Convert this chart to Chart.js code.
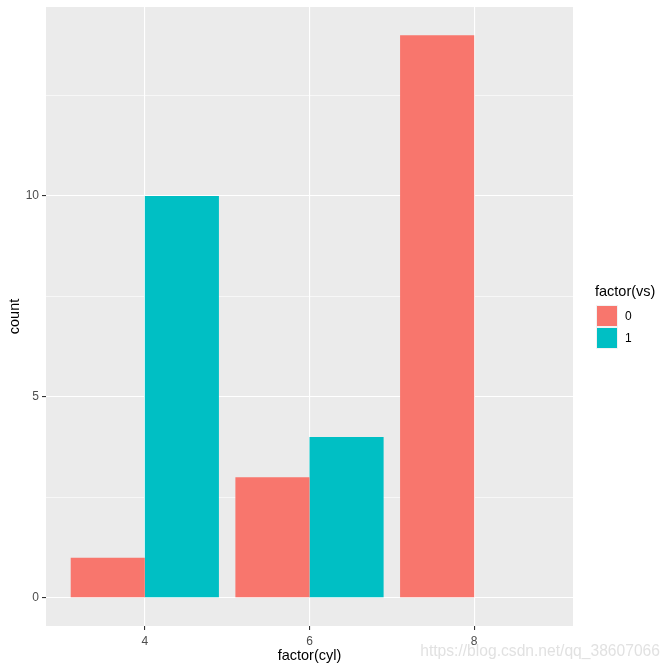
<!DOCTYPE html>
<html>
<head>
<meta charset="utf-8">
<script src="https://cdn.jsdelivr.net/npm/chart.js@4/dist/chart.umd.min.js"></script>
<style>
  html, body { margin: 0; padding: 0; background: #fff; }
  #wrap { width: 672px; height: 671px; position: relative; }
</style>
</head>
<body>
<div id="wrap"><canvas id="chart"></canvas></div>
<script>
// data: mtcars, count by cyl and vs
const cylLabels = ['4', '6', '8'];
const vsLabels = ['0', '1'];
const countVs0 = [1, 3, 14];
const countVs1 = [10, 4, 0];
const yTicks = [0, 2.5, 5, 7.5, 10, 12.5];

const colors = ['#F8766D', '#00BFC4'];
const FONT = "'Liberation Sans', Arial, sans-serif";

// grey panel behind the bars
const panelBg = {
    id: 'panelBg',
    beforeDraw(chart) {
        const a = chart.chartArea, ctx = chart.ctx;
        ctx.save();
        ctx.fillStyle = '#EBEBEB';
        ctx.fillRect(a.left, a.top, a.right - a.left, a.bottom - a.top);
        ctx.restore();
    }
};

// ggplot style legend on the right + the watermark
const sideLegend = {
    id: 'sideLegend',
    afterDraw(chart) {
        const ctx = chart.ctx;
        ctx.save();
        ctx.fillStyle = '#000';
        ctx.font = '14.5px ' + FONT;
        ctx.textBaseline = 'middle';
        ctx.textAlign = 'left';
        ctx.fillText('factor(vs)', 595, 292);
        chart.data.datasets.forEach((ds, i) => {
            const y = 305 + i * 22;
            ctx.fillStyle = '#F2F2F2';
            ctx.fillRect(596, y, 22, 22);
            ctx.fillStyle = ds.backgroundColor;
            ctx.fillRect(597, y + 1, 20, 20);
            ctx.fillStyle = '#000';
            ctx.font = '12px ' + FONT;
            ctx.fillText(ds.label, 625, y + 11.5);
        });
        // watermark
        const wm = 'https://blog.csdn.net/qq_38607066';
        ctx.font = '16px ' + FONT;
        const w = ctx.measureText(wm).width;
        ctx.font = (16 * 240 / w).toFixed(2) + 'px ' + FONT;
        ctx.fillStyle = 'rgba(200,200,200,0.55)';
        ctx.textAlign = 'right';
        ctx.fillText(wm, 660, 652);
        ctx.restore();
    }
};

const toPts = arr => arr.map((v, i) => ({ x: i + 1, y: v }));

new Chart(document.getElementById('chart'), {
    type: 'bar',
    data: {
        datasets: [
            { label: vsLabels[0], data: toPts(countVs0), backgroundColor: colors[0] },
            { label: vsLabels[1], data: toPts(countVs1), backgroundColor: colors[1] }
        ]
    },
    options: {
        responsive: true,
        maintainAspectRatio: false,
        animation: false,
        layout: { padding: { top: 7, right: 99, left: 0, bottom: 0 } },
        datasets: { bar: { categoryPercentage: 0.9, barPercentage: 1.0, borderWidth: 0 } },
        plugins: { legend: { display: false }, tooltip: { enabled: false } },
        scales: {
            x: {
                type: 'linear',
                offset: false,
                min: 0.4, max: 3.6,
                afterBuildTicks: s => { s.ticks = cylLabels.map((_, i) => ({ value: i + 1 })); },
                afterFit: s => { s.height = 45; s.paddingLeft = 0; s.paddingRight = 0; },
                grid: { offset: false, color: '#FFFFFF', lineWidth: 1.1, tickColor: '#333333', tickLength: 4 },
                border: { display: false },
                ticks: {
                    color: '#4D4D4D', font: { family: FONT, size: 12 }, padding: 4,
                    maxRotation: 0,
                    callback: v => cylLabels[Math.round(v) - 1]
                },
                title: { display: true, text: 'factor(cyl)', color: '#000',
                    font: { family: FONT, size: 14.5 }, padding: { top: 0, bottom: 6 } }
            },
            y: {
                min: -0.7, max: 14.7,
                afterBuildTicks: s => { s.ticks = yTicks.map(v => ({ value: v })); },
                afterFit: s => { s.width = 46; s.paddingTop = 0; s.paddingBottom = 0; },
                grid: {
                    color: '#FFFFFF',
                    lineWidth: c => (c.tick && c.tick.value % 5 === 0) ? 1.1 : 0.6,
                    tickColor: c => (c.tick && c.tick.value % 5 === 0) ? '#333333' : 'rgba(0,0,0,0)',
                    tickLength: 4
                },
                border: { display: false },
                ticks: {
                    color: '#4D4D4D', font: { family: FONT, size: 12 }, padding: 3,
                    callback: v => (v % 5 === 0 ? String(v) : '')
                },
                title: { display: true, text: 'count', color: '#000',
                    font: { family: FONT, size: 14.5 }, padding: { top: 6, bottom: 0 } }
            }
        }
    },
    plugins: [panelBg, sideLegend]
});
</script>
</body>
</html>
